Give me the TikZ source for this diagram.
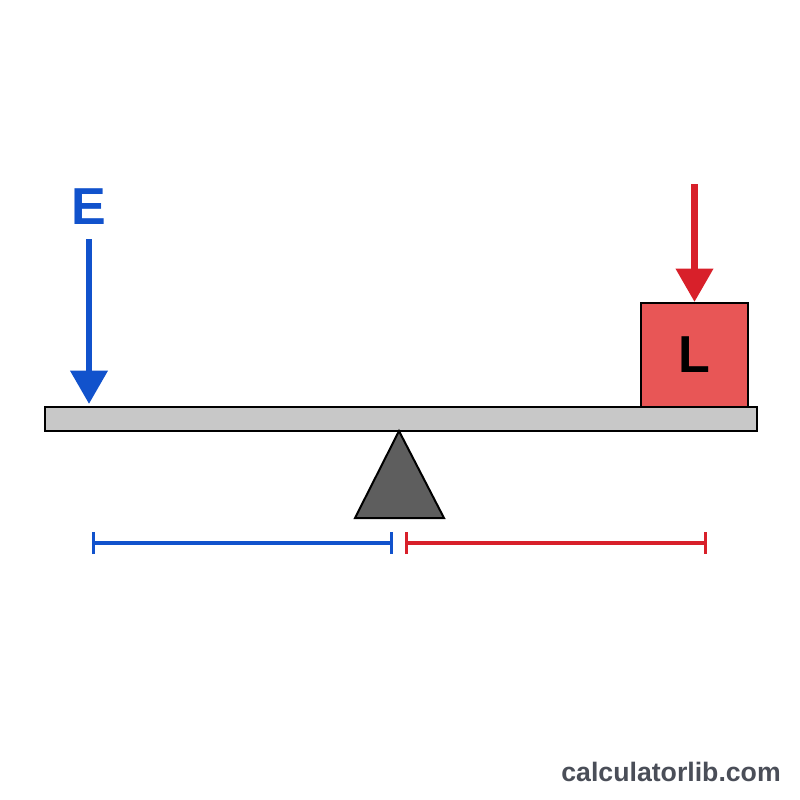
\documentclass[tikz,border=0pt]{standalone}
\usepackage{fontspec}
\setmainfont{Liberation Sans}
\usetikzlibrary{arrows.meta}
\definecolor{beamgray}{HTML}{C8C8C8}
\definecolor{fulcrum}{HTML}{5E5E5E}
\definecolor{loadred}{HTML}{E85656}
\definecolor{arrred}{HTML}{D8202A}
\definecolor{arrblue}{HTML}{1152CC}
\definecolor{markgray}{HTML}{4A4E58}
\tikzset{
  outline/.style={draw=black, line width=1.5pt},
  force/.style={line width=5.2pt, -{Triangle[width=27pt,length=25pt]}},
  dimline/.style={line width=2.5pt, {Bar[width=16.5pt]}-{Bar[width=16.5pt]}},
  bigletter/.style={font=\fontsize{39}{39}\selectfont\bfseries, inner sep=0pt}
}
\begin{document}
\begin{tikzpicture}[x=0.75pt, y=-0.75pt]
\useasboundingbox (0,0) rectangle (800,800);
% beam
\node[outline, fill=beamgray, minimum width=534pt, minimum height=18pt, inner sep=0pt] (beam) at (401,419) {};
% fulcrum
\coordinate (apex) at (399,431);
\coordinate (bl) at (355,518);
\coordinate (br) at (444,518);
\draw[outline, fill=fulcrum, line join=miter] (apex) -- (br) -- (bl) -- cycle;
% load box
\node[outline, fill=loadred, minimum width=80pt, minimum height=78pt, inner sep=0pt] (load) at (694.5,355) {};
\node[bigletter, text=black] (Ltext) at (load.center) {L};
% load arrow
\coordinate (ltop) at (694.5,184);
\draw[force, draw=arrred, fill=arrred] (ltop) -- (load.north);
% effort
\node[bigletter, text=arrblue] (E) at (89,207) {E};
\coordinate (etop) at (89,239);
\coordinate (etip) at (89,404);
\draw[force, draw=arrblue, fill=arrblue] (etop) -- (etip);
% dimension lines
\coordinate (d1) at (92,543);
\coordinate (d2) at (393,543);
\coordinate (d3) at (405,543);
\coordinate (d4) at (707,543);
\draw[dimline, arrblue] (d1) -- (d2);
\draw[dimline, arrred] (d3) -- (d4);
% watermark
\node[anchor=east, text=markgray, font=\fontsize{20}{20}\selectfont\bfseries, inner sep=0pt] (mark) at (781,772) {calculatorlib.com};
\end{tikzpicture}
\end{document}
